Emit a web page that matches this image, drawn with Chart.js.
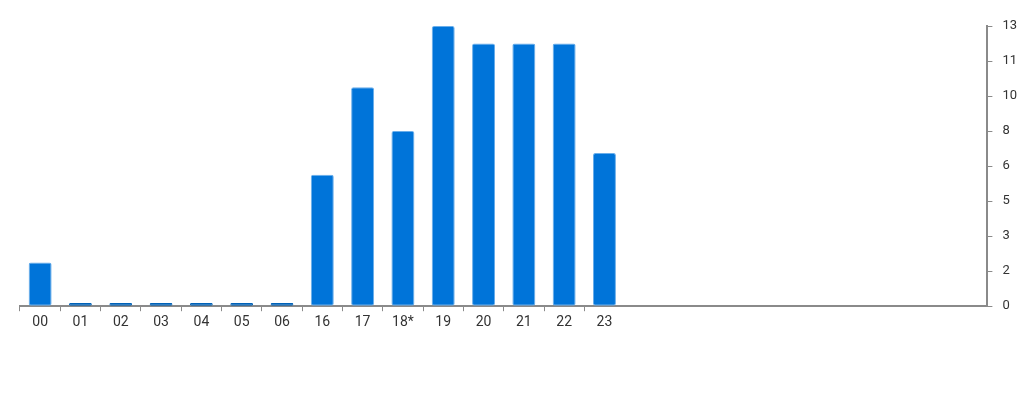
<!DOCTYPE html>
<html>
<head>
<meta charset="utf-8">
<script src="https://cdn.jsdelivr.net/npm/chart.js@4"></script>
<style>
  html, body { margin: 0; padding: 0; background: #fff; }
  #wrap { width: 1024px; height: 400px; }
</style>
</head>
<body>
<div id="wrap"><canvas id="chart" width="1024" height="400"></canvas></div>
<script>
// hours shown on the x axis, trailing slots are empty
const hours = ['00', '01', '02', '03', '04', '05', '06', '16', '17', '18*', '19', '20', '21', '22', '23',
  '', '', '', '', '', '', '', '', ''];
const counts = [2, 0.15, 0.15, 0.15, 0.15, 0.15, 0.15, 6, 10, 8, 12.8, 12, 12, 12, 7];
const yMax = 12.8;
const yTickCount = 9;

const BLUE = '#0074d9';
const AXIS = '#8a8a8a';

const ctx = document.getElementById('chart');

const chart = new Chart(ctx, {
  type: 'bar',
  data: {
    labels: hours,
    datasets: [
      {
        data: counts,
        backgroundColor: (c) => (c.raw < 0.5 ? '#0062b8' : BLUE),
        borderColor: (c) => (c.raw < 0.5 ? '#0062b8' : 'rgba(90,165,232,0.9)'),
        borderWidth: 1,
        borderRadius: 2,
        borderSkipped: false,
        categoryPercentage: 0.6,
        barPercentage: 0.95,
      },
    ],
  },
  options: {
    responsive: false,
    animation: false,
    layout: {
      padding: { left: 20, right: -3, top: 26, bottom: 66 },
    },
    plugins: {
      legend: { display: false },
      tooltip: { enabled: false },
    },
    scales: {
      x: {
        grid: {
          display: true,
          drawOnChartArea: false,
          tickLength: 5,
          tickColor: (c) => (hours[c.index] ? AXIS : 'rgba(0,0,0,0)'),
          offset: true,
        },
        border: { color: AXIS, width: 2 },
        ticks: {
          color: '#333',
          font: { family: 'Roboto', size: 14 },
          padding: 3,
          maxRotation: 0,
          autoSkip: false,
        },
      },
      y: {
        position: 'right',
        min: 0,
        max: yMax,
        grid: {
          drawOnChartArea: false,
          tickLength: 5,
          tickColor: AXIS,
        },
        border: { color: AXIS, width: 2 },
        ticks: {
          count: yTickCount,
          color: '#333',
          font: { family: 'Roboto', size: 13 },
          padding: 10,
          callback: (v) => Math.round(v),
        },
      },
    },
  },
});
</script>
</body>
</html>
